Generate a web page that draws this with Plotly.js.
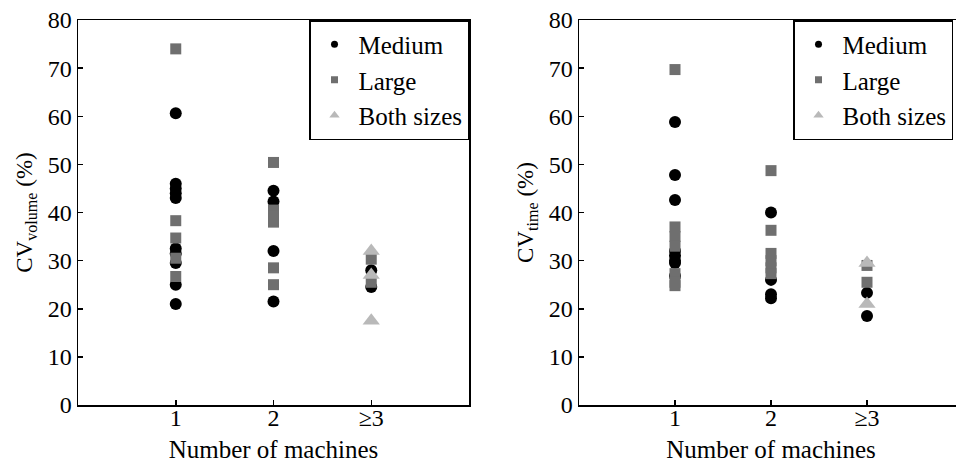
<!DOCTYPE html>
<html><head><meta charset="utf-8">
<script src="https://cdn.plot.ly/plotly-3.0.1.min.js"></script>
<style>html,body{margin:0;padding:0;overflow:hidden;background:#fff}</style>
</head><body><div id="chart"></div>
<script>
// Categories (machine counts)
const categories = [1, 2, 3];
const tickLabels = ["1", "2", "\u22653"];

// Left panel: CV volume (%)
const volMedium = [[60.6, 46, 45, 44, 43, 32.5, 31.5, 29.5, 25, 21], [44.5, 42.3, 32, 21.5], [28, 24.5]];
const volLarge  = [[74, 38.3, 34.7, 30.5, 26.7], [50.4, 40.5, 39.3, 38, 28.5, 25], [30.3, 25.5]];
const volBoth   = [[], [], [32, 27, 17.5]];

// Right panel: CV time (%)
const timeMedium = [[58.8, 47.8, 42.6, 32, 31, 30, 29.5, 26.8], [40, 26, 23, 22.2], [23.3, 18.5]];
const timeLarge  = [[69.7, 37, 35, 33, 27.3, 25.5, 24.8], [48.7, 36.3, 31.5, 30, 28.5, 27.3], [29, 25.5]];
const timeBoth   = [[], [], [29.5, 21]];

const seriesNames = ["Medium", "Large", "Both sizes"];

function flat(groups) {
  const x = [], y = [];
  groups.forEach((g, i) => g.forEach(v => { x.push(categories[i]); y.push(v); }));
  return {x, y};
}

const styles = [
  {symbol: "circle", color: "#000000", size: 12, lsize: 7},
  {symbol: "square", color: "#6f6f6f", size: 11, lsize: 7},
  {symbol: "triangle-up", color: "#b9b9b9", size: 15, lsize: 9}
];

const traces = [];
function addPanel(sets, xa, ya, legendId) {
  sets.forEach((s, i) => {
    const d = flat(s);
    traces.push({type: "scatter", mode: "markers", x: d.x, y: d.y, xaxis: xa, yaxis: ya,
      name: seriesNames[i], showlegend: false, hoverinfo: "y",
      marker: {symbol: styles[i].symbol, color: styles[i].color, size: styles[i].size}});
  });
  sets.forEach((s, i) => {
    traces.push({type: "scatter", mode: "markers", x: [null], y: [null], xaxis: xa, yaxis: ya,
      name: seriesNames[i], showlegend: true, legend: legendId,
      marker: {symbol: styles[i].symbol, color: styles[i].color, size: styles[i].lsize}});
  });
}
addPanel([volMedium, volLarge, volBoth], "x", "y", "legend");
addPanel([timeMedium, timeLarge, timeBoth], "x2", "y2", "legend2");

const font = {family: "Liberation Serif, Times New Roman, serif", color: "#000"};
const W = 963, L = 78;
const plotW = W - L;
const xAxisBase = {range: [0, 4], tickvals: categories, ticktext: tickLabels, ticks: "inside", ticklen: 5,
  tickwidth: 1.5, tickcolor: "#000", showline: true, linecolor: "#000", linewidth: 1.5, mirror: true,
  showgrid: false, zeroline: false, tickfont: {family: font.family, size: 24, color: "#000"},
  ticklabelstandoff: -9,
  title: {text: "Number of machines", font: {family: font.family, size: 25, color: "#000"}, standoff: 10}};
const yAxisBase = {range: [0, 80], dtick: 10, ticks: "inside", ticklen: 5, tickwidth: 1.5, tickcolor: "#000",
  showline: true, linecolor: "#000", linewidth: 1.5, mirror: true, showgrid: false, zeroline: false,
  tickfont: {family: font.family, size: 24, color: "#000"}};

const legendBase = {y: 1, yanchor: "top", xanchor: "right", bgcolor: "#fff", bordercolor: "#000", borderwidth: 1.5,
  font: {family: font.family, size: 25, color: "#000"}, tracegroupgap: 0, itemwidth: 38};

const layout = {
  width: W, height: 463, margin: {l: L, r: 0, t: 20, b: 58},
  paper_bgcolor: "#fff", plot_bgcolor: "#fff", font: font,
  xaxis: Object.assign({}, xAxisBase, {domain: [0, 391 / plotW], anchor: "y"}),
  xaxis2: Object.assign({}, xAxisBase, {domain: [501 / plotW, 1], anchor: "y2"}),
  yaxis: Object.assign({}, yAxisBase, {anchor: "x",
    title: {text: "CV<sub>volume</sub> (%)", font: {family: font.family, size: 23, color: "#000"}, standoff: 8}}),
  yaxis2: Object.assign({}, yAxisBase, {anchor: "x2",
    title: {text: "CV<sub>time</sub> (%)", font: {family: font.family, size: 23, color: "#000"}, standoff: 8}}),
  legend: Object.assign({}, legendBase, {x: 391 / plotW}),
  legend2: Object.assign({}, legendBase, {x: (953 - L) / plotW}),
  showlegend: true
};

Plotly.newPlot("chart", traces, layout, {displayModeBar: false, staticPlot: true});
</script></body></html>
